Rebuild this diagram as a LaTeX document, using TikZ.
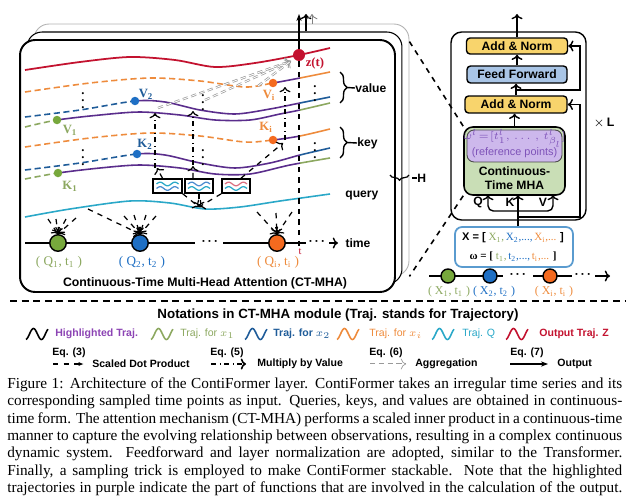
\documentclass[tikz,border=0pt]{standalone}
\usepackage{fontspec}
\setmainfont{Liberation Serif}
\setsansfont{Liberation Sans}
\usetikzlibrary{arrows.meta,decorations.pathreplacing}

\definecolor{zred}{HTML}{C3122F}
\definecolor{korange}{HTML}{EE8B3C}
\definecolor{dotorange}{HTML}{F46A1F}
\definecolor{kblue}{HTML}{1F5C99}
\definecolor{dotblue}{HTML}{1E6FC4}
\definecolor{kgreen}{HTML}{8CA860}
\definecolor{dotgreen}{HTML}{77A83C}
\definecolor{hpurple}{HTML}{5A2D8C}
\definecolor{hltext}{HTML}{8C44B4}
\definecolor{qcyan}{HTML}{2AA8C8}
\definecolor{anyellow}{HTML}{F8D46C}
\definecolor{ffblue}{HTML}{A9C5E6}
\definecolor{mhagreen}{HTML}{C9DEB6}
\definecolor{refpurple}{HTML}{CDB8EC}
\definecolor{reftext}{HTML}{7E52B8}
\definecolor{inblue}{HTML}{5A9BCF}

% trajectory: dashed up to its dot, purple up to t, own colour after t
\newcommand{\trajpath}[3]{%
  \begin{scope}
    \clip (20,0) rectangle (#2,300);
    \draw[#1, dash pattern=on 3.5pt off 2pt, line width=0.9pt] plot[smooth] coordinates {#3};
  \end{scope}
  \begin{scope}
    \clip (#2,0) rectangle (300,300);
    \draw[hpurple, line width=0.9pt] plot[smooth] coordinates {#3};
  \end{scope}
  \begin{scope}
    \clip (300,0) rectangle (340,300);
    \draw[#1, line width=0.9pt] plot[smooth] coordinates {#3};
  \end{scope}}
\newcommand{\legwave}[2]{\draw[#2, line width=0.9pt] plot[domain=-80:420, samples=40, smooth] ({#1+(\x+80)/500*22},{334-5.5*sin(\x)});}
\newcommand{\boxwave}[3]{\draw[#3, line width=0.7pt] plot[domain=0:540, samples=30, smooth] ({#1+\x/540*22},{#2-1.8*sin(\x)});}
\newcommand{\capline}[1]{\makebox[350pt][s]{\spaceskip=0.25em plus 0.4em minus 0.1em #1}}
\newcommand{\hdots}{\textbf{\textperiodcentered\,\textperiodcentered\,\textperiodcentered}}

\begin{document}
\begin{tikzpicture}[x=0.02cm, y=-0.02cm, >={To[length=3pt]},
  panel/.style={draw, rounded corners=0.3cm, minimum width=7.5cm, minimum height=5.04cm, fill=white},
  trajdot/.style={circle, inner sep=0pt, minimum size=0.17cm},
  tdot/.style={circle, draw, line width=0.8pt, inner sep=0pt, minimum size=0.33cm},
  lab/.style={font=\sffamily\bfseries\fontsize{6.9}{8}\selectfont},
  sym/.style={font=\bfseries\fontsize{7.2}{8}\selectfont},
  pair/.style={font=\fontsize{7.5}{8}\selectfont},
  leg/.style={anchor=west, inner sep=0pt, font=\sffamily\bfseries\fontsize{6}{7}\selectfont},
  blk/.style={draw, line width=0.8pt, rounded corners=2pt, inner sep=0pt, lab},
  sdp/.style={dashed, line width=0.7pt, ->},
  mbv/.style={dashdotted, line width=0.7pt, ->},
  aggr/.style={draw=gray!80, densely dashed, line width=0.4pt, double=white, double distance=0.5pt, ->},
  outarr/.style={line width=0.9pt, -{Stealth[length=4pt]}}]
\useasboundingbox (0,0) rectangle (634,500);

% ---- CT-MHA panel (three heads) ----
\node[panel, draw=gray!60, line width=0.5pt] (back3) at (221.5,150) {};
\node[panel, line width=0.6pt] (back2) at (214.5,158) {};
\node[panel, line width=1.1pt] (front) at (207.5,166) {};
\node[lab, font=\sffamily\bfseries\fontsize{7}{8}\selectfont] (title) at (205,283) {Continuous-Time Multi-Head Attention (CT-MHA)};

% output trajectory
\draw[zred, line width=1pt] plot[smooth] coordinates {(25,70) (80,62) (130,57) (175,60) (215,67) (255,63) (299,55) (330,48)};
% value trajectories
\trajpath{korange}{273}{(25,92) (90,83) (150,78) (200,81) (245,87) (273,83) (300,78) (330,72)}
\trajpath{kblue}{135}{(25,117) (80,110) (135,101) (165,102) (200,110) (235,114) (270,109) (300,103) (330,97)}
\trajpath{kgreen}{57}{(25,127) (57,120) (100,115) (140,112) (180,115) (215,120) (250,120) (280,114) (300,110) (330,103)}
% key trajectories
\trajpath{korange}{273}{(25,147) (90,138) (150,133) (200,136) (245,142) (273,140) (300,136) (330,129)}
\trajpath{kblue}{137}{(25,170) (80,163) (137,154) (165,155) (200,163) (235,168) (270,163) (300,155) (330,148)}
\trajpath{kgreen}{58}{(25,179) (58,173) (100,168) (140,165) (180,168) (215,174) (250,174) (290,165) (330,158)}
% query trajectory
\draw[qcyan, line width=0.9pt] plot[smooth] coordinates {(25,217) (70,209) (130,201) (170,203) (205,209) (240,207) (280,201) (330,194)};

\node[trajdot, fill=zred, minimum size=0.24cm] (zdot) at (299,55) {};
\node[trajdot, fill=dotorange] (vdoti) at (273,83) {};
\node[trajdot, fill=dotblue] (vdot2) at (135,101) {};
\node[trajdot, fill=dotgreen] (vdot1) at (57,120) {};
\node[trajdot, fill=dotorange] (kdoti) at (273,140) {};
\node[trajdot, fill=dotblue] (kdot2) at (137,154) {};
\node[trajdot, fill=dotgreen] (kdot1) at (58,173) {};

\node[sym, text=zred] (zlab) at (315,63) {z(t)};
\node[sym, text=kgreen] (lv1) at (70,130) {V\textsubscript{1}};
\node[sym, text=kblue] (lv2) at (146,94) {V\textsubscript{2}};
\node[sym, text=korange] (lvi) at (269,95) {V\textsubscript{i}};
\node[sym, text=kgreen] (lk1) at (70,186) {K\textsubscript{1}};
\node[sym, text=kblue] (lk2) at (145,144) {K\textsubscript{2}};
\node[sym, text=korange] (lki) at (266,127) {K\textsubscript{i}};
\foreach \x/\y [count=\i] in {83/95, 203/97, 315/88, 83/152, 203/152, 315/145}
  \node[sym, inner sep=0pt] (vd\i) at (\x,\y) {$\vdots$};

% brackets on the right of the panel
\coordinate (vtop) at (340,72); \coordinate (vbot) at (340,103); \coordinate (vtip) at (347,87.5);
\coordinate (ktop) at (340,127); \coordinate (kbot) at (340,158); \coordinate (ktip) at (347,142.5);
\draw[decorate, decoration={brace, amplitude=4pt}, line width=0.8pt] (vtop) -- (vbot);
\draw[decorate, decoration={brace, amplitude=4pt}, line width=0.8pt] (ktop) -- (kbot);
\node[lab, anchor=west, inner sep=0pt] (lval) at (355,88) {value};
\node[lab, anchor=west, inner sep=0pt] (lkey) at (357,143) {key};
\node[lab, anchor=west, inner sep=0pt] (lqry) at (345,195) {query};
\draw[line width=0.8pt] (vtip) -- (lval.west);
\draw[line width=0.8pt] (ktip) -- (lkey.west);

% dot-product boxes
\node[draw, line width=0.9pt, minimum width=0.58cm, minimum height=0.28cm, inner sep=0pt] (box1) at (167.5,186) {};
\node[draw, line width=0.9pt, minimum width=0.56cm, minimum height=0.28cm, inner sep=0pt] (box2) at (199,186) {};
\node[draw, line width=0.9pt, minimum width=0.56cm, minimum height=0.28cm, inner sep=0pt] (box3) at (236,186) {};
\boxwave{156.5}{184}{qcyan}\boxwave{156.5}{188.5}{dotblue!80}
\boxwave{188}{184}{dotblue!80}\boxwave{188}{188.5}{qcyan}
\boxwave{225}{184}{zred!60}\boxwave{225}{188.5}{qcyan}

\coordinate (kp1) at (157,168); \coordinate (kp2) at (193,166); \coordinate (kp3) at (283,143);
\coordinate (qp) at (199,207);
\draw[sdp] ([xshift=-0.1cm]box1.north) -- (kp1);
\draw[sdp] ([xshift=-0.12cm]box2.north) -- (kp2);
\draw[sdp] ([xshift=0.1cm]box3.north) -- (kp3);
\draw[sdp] (box1.south east) -- (qp);
\draw[sdp] (box2.south) -- (qp);
\draw[sdp] (box3.south west) -- (qp);

% multiply by value
\coordinate (m1s) at (155,168); \coordinate (m1e) at (155,113);
\coordinate (m2s) at (193,165); \coordinate (m2e) at (193,111);
\coordinate (m3s) at (285,140); \coordinate (m3e) at (285,87);
\draw[mbv] (m1s) -- (m1e);
\draw[mbv] (m2s) -- (m2e);
\draw[mbv] (m3s) -- (m3e);

% aggregation towards z(t)
\coordinate (zin) at (291,61);
\coordinate (ag1) at (158,108); \coordinate (ag2) at (205,100); \coordinate (ag3) at (258,86);
\draw[aggr] (ag1) -- (zin);
\draw[aggr] (ag2) -- (zin);
\draw[aggr] (ag3) -- (zin);

% time axis
\coordinate (ax0) at (25,243); \coordinate (ax1) at (195,243);
\coordinate (ax2) at (223,243); \coordinate (ax3) at (306,243);
\coordinate (ax4) at (329,243); \coordinate (ax5) at (338,243);
\draw[line width=0.8pt] (ax0) -- (ax1);
\draw[line width=0.8pt] (ax2) -- (ax3);
\draw[line width=0.8pt, ->] (ax4) -- (ax5);
\node[lab] (dots1) at (210,243) {\hdots};
\node[lab] (dots2) at (317,243) {\hdots};
\node[lab] (ltime) at (358,243) {time};
\coordinate (tmark) at (299,246);
\draw[dashed, line width=0.8pt] (zdot) -- (tmark);
\node[font=\fontsize{6}{7}\selectfont, text=zred] (tlab) at (300,252) {t};

\node[tdot, fill=dotgreen] (qc1) at (58,243) {};
\node[tdot, fill=dotblue] (qc2) at (140,243) {};
\node[tdot, fill=dotorange] (qci) at (277,243) {};
\node[pair, text=kgreen] (lq1) at (59,262) {( Q\textsubscript{1}, t\textsubscript{1} )};
\node[pair, text=dotblue] (lq2) at (142,262) {( Q\textsubscript{2}, t\textsubscript{2} )};
\node[pair, text=korange] (lqi) at (278,262) {( Q\textsubscript{i}, t\textsubscript{i} )};

% scaled dot product from the query trajectory
\foreach \x/\y [count=\i] in {48/219, 56/219, 66/219, 76/218} {
  \coordinate (sa\i) at (\x,\y); \draw[sdp] (sa\i) -- (qc1.north);}
\foreach \x/\y [count=\i] in {88/209, 124/216, 134/215, 146/215, 156/216} {
  \coordinate (sb\i) at (\x,\y); \draw[sdp] (sb\i) -- (qc2.north);}
\foreach \x/\y [count=\i] in {257/212, 276/213, 292/212} {
  \coordinate (sc\i) at (\x,\y); \draw[sdp] (sc\i) -- (qci.north);}

% output of the heads
\coordinate (zout1) at (299,14); \coordinate (zout2) at (306,14); \coordinate (zout3) at (312,14);
\draw[outarr, line width=1.2pt] (zdot) -- (zout1);
\draw[->, line width=0.8pt] (back2.north -| zout2) -- (zout2);
\draw[->, gray, line width=0.5pt] (back3.north -| zout3) -- (zout3);

% heads brace
\coordinate (hl) at (390,175); \coordinate (hr) at (409,175); \coordinate (htip) at (412,178);
\draw[decorate, decoration={brace, mirror, amplitude=3pt}, line width=0.7pt] (hl) -- (hr);
\node[lab, anchor=west, inner sep=0pt] (lheads) at (417,178) {H};
\draw[line width=0.7pt] (htip) -- (lheads.west);

% ---- ContiFormer layer ----
\node[draw, line width=0.8pt, rounded corners=6pt, minimum width=2.7cm, minimum height=3.76cm] (layer) at (518.5,126) {};
\node[blk, fill=anyellow, minimum width=2.02cm, minimum height=0.32cm] (an2) at (517,46) {Add \& Norm};
\node[blk, fill=ffblue, minimum width=2.0cm, minimum height=0.34cm] (ff) at (517,74.5) {Feed Forward};
\node[blk, fill=anyellow, minimum width=2.04cm, minimum height=0.34cm] (an1) at (516,104.5) {Add \& Norm};
\node[draw, line width=0.9pt, rounded corners=5pt, fill=mhagreen, minimum width=2.02cm, minimum height=1.36cm] (mha) at (514.5,161) {};
\node[draw=black!70, line width=0.5pt, rounded corners=4pt, fill=refpurple, minimum width=1.9cm, minimum height=0.64cm] (refpts) at (514.5,146) {};
\node[text=reftext, inner sep=0pt, font=\fontsize{6}{7}\selectfont] (omg) at (514.5,138) {$\omega^{l}\!=\![t^{l}_{1},\,\ldots\,,\,t^{l}_{\beta_l}]$};
\node[text=reftext, inner sep=0pt, font=\sffamily\fontsize{6.2}{7}\selectfont] (refnote) at (514.5,153) {(reference points)};
\node[lab, align=center, font=\sffamily\bfseries\fontsize{6.9}{8.2}\selectfont] (mhatxt) at (514.5,178) {Continuous-\\Time MHA};
\node[lab, font=\sffamily\bfseries\fontsize{7}{8}\selectfont] (xl) at (604,123) {$\times$\,L};

\coordinate (outtop) at (517,14);
\draw[->, line width=0.8pt] (an2.north) -- (outtop);
\draw[->, line width=0.8pt] (ff.north) -- (an2.south);
\draw[->, line width=0.8pt] (an1.north) -- (an1.north |- ff.south);
\draw[->, line width=0.8pt] (mha.north) -- (mha.north |- an1.south);

\node[draw=inblue, line width=1pt, rounded corners=4pt, minimum width=2.36cm, minimum height=0.8cm] (inbox) at (514,247) {};
\node[inner sep=0pt, font=\fontsize{6.3}{7}\selectfont] (xseq) at (513,238)
  {\textsf{\textbf{X = [}} \textcolor{kgreen}{X\textsubscript{1},}\,\textcolor{dotblue}{X\textsubscript{2},...,}\,\textcolor{korange}{X\textsubscript{i},...} \textsf{\textbf{]}}};
\node[inner sep=0pt, font=\fontsize{6.3}{7}\selectfont] (wseq) at (513,257)
  {\textbf{ω = [} \textcolor{kgreen}{t\textsubscript{1},}\,\textcolor{dotblue}{t\textsubscript{2},...,}\,\textcolor{korange}{t\textsubscript{i},...} \textbf{]}};

\coordinate (qin) at (488,195); \coordinate (kin) at (518,195); \coordinate (vin) at (553,195);
\coordinate (ksplit) at (518,211); \coordinate (res1) at (518,217); \coordinate (res2) at (517,90);
\coordinate (rx) at (580,0);
\draw[->, line width=0.8pt] (inbox.north -| kin) -- (kin);
\draw[->, line width=0.8pt, rounded corners=3pt] (ksplit) -| (qin);
\draw[->, line width=0.8pt, rounded corners=3pt] (ksplit) -| (vin);
\draw[->, line width=0.8pt] (res1) -- (res1 -| rx) |- (an1.east);
\draw[->, line width=0.8pt] (res2) -- (res2 -| rx) |- (an2.east);
\node[lab] (lq) at (478,202) {Q};
\node[lab] (lk) at (510,202) {K};
\node[lab] (lv) at (543,202) {V};

% zoom lines from the panel
\draw[dashed, line width=0.9pt] ([yshift=-0.36cm]back3.north east) -- (mha.north west);
\draw[dashed, line width=0.9pt] (mha.south west) -- (back3.south east);

% input series
\coordinate (bx0) at (429,276); \coordinate (bx1) at (503,276);
\coordinate (bx2) at (533,276); \coordinate (bx3) at (572,276);
\coordinate (bx4) at (595,276); \coordinate (bx5) at (610,276);
\draw[line width=0.8pt] (bx0) -- (bx1);
\draw[line width=0.8pt] (bx2) -- (bx3);
\draw[line width=0.8pt, ->] (bx4) -- (bx5);
\node[lab] (dots3) at (518,276) {\hdots};
\node[lab] (dots4) at (583,276) {\hdots};
\node[tdot, fill=dotgreen, minimum size=0.28cm] (xc1) at (448,276) {};
\node[tdot, fill=dotblue, minimum size=0.28cm] (xc2) at (490,276) {};
\node[tdot, fill=dotorange, minimum size=0.28cm] (xci) at (550,276) {};
\node[pair, inner sep=0pt, font=\fontsize{6.8}{8}\selectfont, text=kgreen] (lx1) at (449,292) {( X\textsubscript{1}, t\textsubscript{1} )};
\node[pair, inner sep=0pt, font=\fontsize{6.8}{8}\selectfont, text=dotblue] (lx2) at (494,292) {( X\textsubscript{2}, t\textsubscript{2} )};
\node[pair, inner sep=0pt, font=\fontsize{6.8}{8}\selectfont, text=korange] (lxi) at (554,292) {( X\textsubscript{i}, t\textsubscript{i} )};

% ---- notations ----
\coordinate (sep0) at (10,301); \coordinate (sep1) at (625,301);
\draw[line width=1.2pt, dash pattern=on 4pt off 2.6pt] (sep0) -- (sep1);
\node[font=\sffamily\bfseries\fontsize{7.6}{9}\selectfont] (nottitle) at (338,315) {Notations in CT-MHA module (Traj. stands for Trajectory)};

\legwave{26}{black}
\node[leg, text=hltext] (n1) at (55,334) {Highlighted Traj.};
\legwave{151}{kgreen}
\node[leg, text=kgreen, font=\sffamily\fontsize{6}{7}\selectfont] (n2) at (180,334) {Traj. for $x_1$};
\legwave{245}{kblue}
\node[leg, text=kblue] (n3) at (273,334) {Traj. for $x_2$};
\legwave{337}{korange}
\node[leg, text=korange, font=\sffamily\fontsize{6}{7}\selectfont] (n4) at (369,334) {Traj. for $x_i$};
\legwave{432}{qcyan}
\node[leg, text=qcyan, font=\sffamily\fontsize{6}{7}\selectfont] (n5) at (462,334) {Traj. Q};
\legwave{506}{zred}
\node[leg, text=zred] (n6) at (539,334) {Output Traj. Z};

\node[leg] (eq3) at (52,353) {Eq. (3)};
\node[leg] (eq5) at (210,353) {Eq. (5)};
\node[leg] (eq6) at (369,353) {Eq. (6)};
\node[leg] (eq7) at (510,353) {Eq. (7)};
\coordinate (a3s) at (53,364); \coordinate (a3e) at (84,364);
\coordinate (a5s) at (211,364); \coordinate (a5e) at (246,364);
\coordinate (a6s) at (370,364); \coordinate (a6e) at (406,364);
\coordinate (a7s) at (510,364); \coordinate (a7e) at (548,364);
\draw[sdp, line width=0.9pt, -{Latex[length=3pt]}] (a3s) -- (a3e);
\draw[mbv, line width=0.9pt] (a5s) -- (a5e);
\draw[aggr] (a6s) -- (a6e);
\draw[outarr] (a7s) -- (a7e);
\node[leg] (t3) at (92,364) {Scaled Dot Product};
\node[leg] (t5) at (257,364) {Multiply by Value};
\node[leg] (t6) at (415,364) {Aggregation};
\node[leg] (t7) at (557,364) {Output};

% ---- caption ----
\begin{scope}[every node/.style={anchor=west, inner sep=0pt, font=\fontsize{8.7}{10}\selectfont}]
\node (cap1) at (7,385) {\capline{Figure 1: Architecture of the ContiFormer layer. ContiFormer takes an irregular time series and its}};
\node (cap2) at (7,402.3) {\capline{corresponding sampled time points as input. Queries, keys, and values are obtained in continuous-}};
\node (cap3) at (7,419.6) {\capline{time form. The attention mechanism (CT-MHA) performs a scaled inner product in a continuous-time}};
\node (cap4) at (7,436.9) {\capline{manner to capture the evolving relationship between observations, resulting in a complex continuous}};
\node (cap5) at (7,454.2) {\capline{dynamic system.\ \ Feedforward and layer normalization are adopted, similar to the Transformer.}};
\node (cap6) at (7,471.5) {\capline{Finally, a sampling trick is employed to make ContiFormer stackable.\ \ Note that the highlighted}};
\node (cap7) at (7,488.8) {\capline{trajectories in purple indicate the part of functions that are involved in the calculation of the output.}};
\end{scope}
\end{tikzpicture}
\end{document}
